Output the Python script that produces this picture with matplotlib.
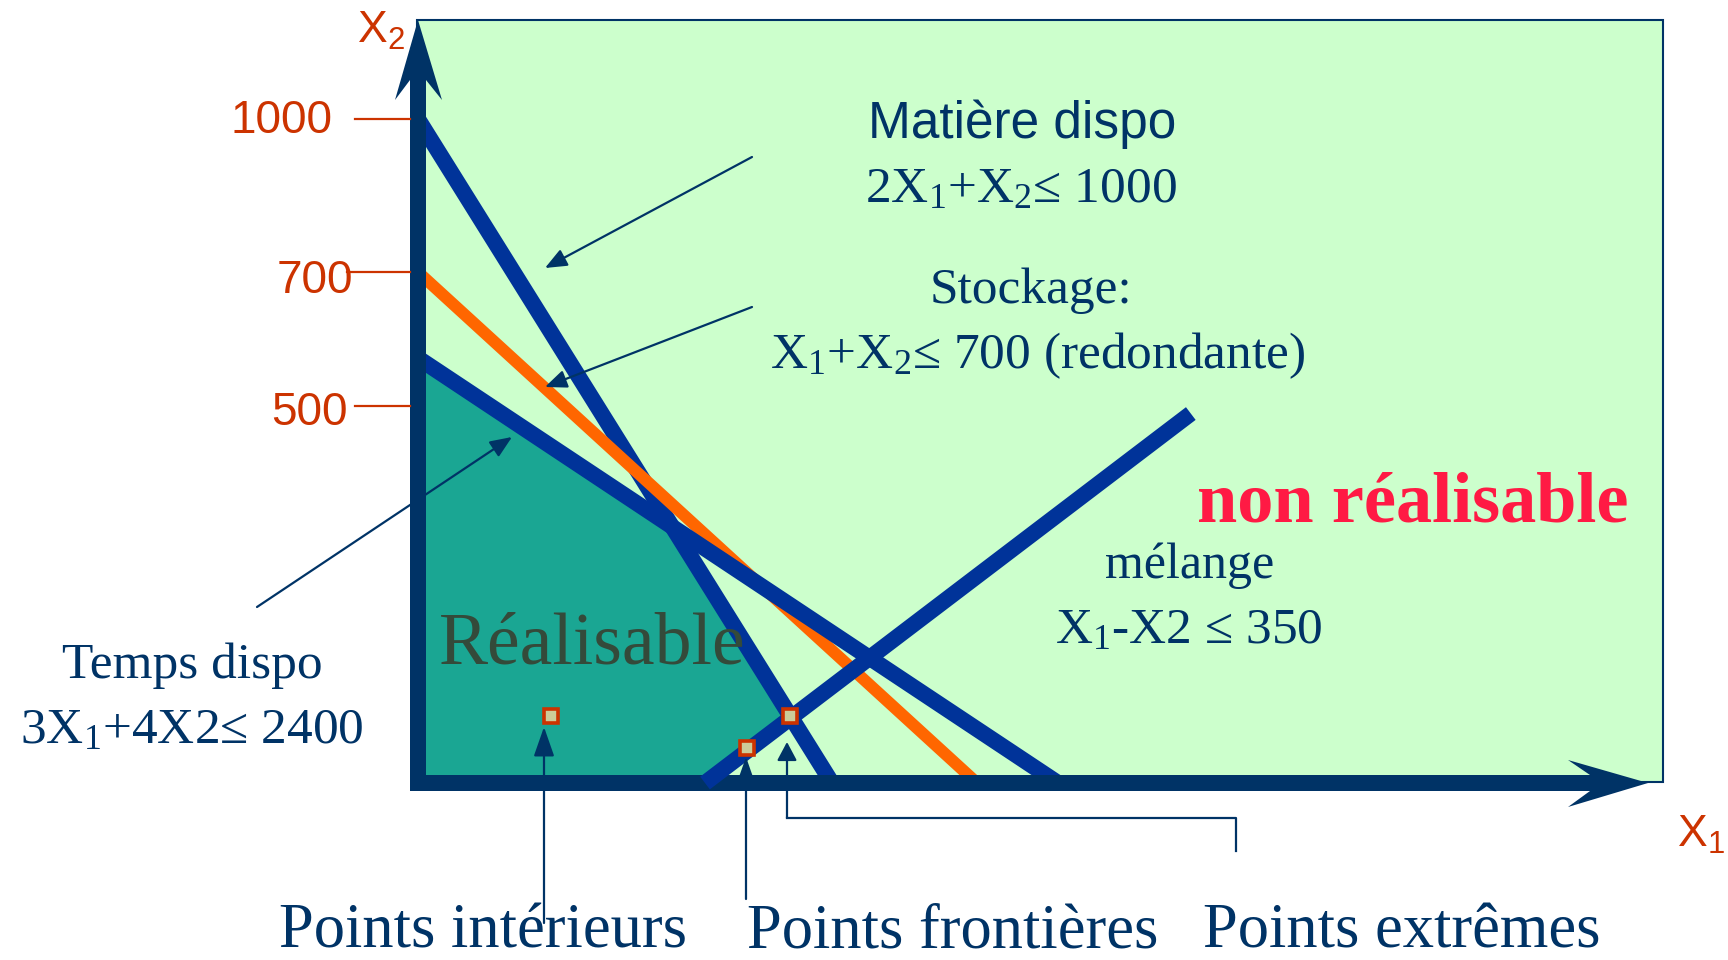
import numpy as np
import matplotlib.pyplot as plt
from matplotlib.patches import Polygon, Rectangle, ArrowStyle
from matplotlib.transforms import Affine2D, blended_transform_factory

plt.rcParams['mathtext.default'] = 'regular'

# constraint lines (X1, X2 end points)
matiere_x = [0, 500]
matiere_y = [1000, 0]
stockage_x = [0, 700]
stockage_y = [700, 0]
temps_x = [0, 800]
temps_y = [600, 0]
melange_x = [350, 966]
melange_y = [0, 490]

# marked points
interior_pt = (162, 89)
frontier_pt = (400, 46)
extreme_pt = (450, 89)

y_ticks = [1000, 700, 500]
y_tick_labels = ['1000', '700', '500']

# the sketch is not drawn to scale: piecewise scale on both axes
X_KNOTS = [-2000, 0, 350, 500, 700, 800, 3000]
X_PX = [-1600, 0, 287, 414, 559, 640, 2400]
Y_KNOTS = [-2000, 0, 500, 600, 700, 1000, 3000]
Y_PX = [-1508, 0, 377, 425, 511, 664, 1684]

W, H = 1728, 960
ORIGIN = (418, 783)

NAVY = '#003366'
LINE_BLUE = '#003399'
ORANGE = '#ff6600'
RUST = '#cc3300'
TEAL = '#1aa693'
PALE = '#ccffcc'
SERIF = 'Liberation Serif'
SANS = 'Liberation Sans'


def x_fwd(v):
    return np.interp(v, X_KNOTS, X_PX)


def x_inv(p):
    return np.interp(p, X_PX, X_KNOTS)


def y_fwd(v):
    return np.interp(v, Y_KNOTS, Y_PX)


def y_inv(p):
    return np.interp(p, Y_PX, Y_KNOTS)


fig = plt.figure(figsize=(W / 100, H / 100), dpi=100)
ax = fig.add_axes([0, 0, 1, 1])
ax.set_xscale('function', functions=(x_fwd, x_inv))
ax.set_yscale('function', functions=(y_fwd, y_inv))
ax.set_xlim(float(x_inv(-ORIGIN[0])), float(x_inv(W - ORIGIN[0])))
ax.set_ylim(float(y_inv(-(H - ORIGIN[1]))), float(y_inv(ORIGIN[1])))
ax.set_axis_off()

# pixel coordinates, origin top-left, for the layout of the sketch
PX = Affine2D().scale(1 / W, -1 / H).translate(0, 1) + fig.transFigure


def crossing(xs1, ys1, xs2, ys2):
    a = ax.transData.transform(np.column_stack([xs1, ys1]))
    b = ax.transData.transform(np.column_stack([xs2, ys2]))
    d1 = a[1] - a[0]
    d2 = b[1] - b[0]
    w = b[0] - a[0]
    t = (w[0] * d2[1] - w[1] * d2[0]) / (d1[0] * d2[1] - d1[1] * d2[0])
    return ax.transData.inverted().transform(a[0] + t * d1)


# background box
ax.add_patch(Rectangle((417, 20), 1246, 762, transform=PX, facecolor=PALE,
                       edgecolor=NAVY, lw=1.5, zorder=1))

# feasible region
corner_tm = crossing(temps_x, temps_y, matiere_x, matiere_y)
corner_mm = crossing(matiere_x, matiere_y, melange_x, melange_y)
feasible = [(0, 0), (temps_x[0], temps_y[0]), tuple(corner_tm),
            tuple(corner_mm), (melange_x[0], melange_y[0])]
ax.add_patch(Polygon(feasible, closed=True, facecolor=TEAL,
                     edgecolor='none', zorder=2))

ax.plot(matiere_x, matiere_y, color=LINE_BLUE, lw=11.5,
        solid_capstyle='butt', zorder=3)
ax.plot(stockage_x, stockage_y, color=ORANGE, lw=8.6,
        solid_capstyle='butt', zorder=3)
ax.plot(temps_x, temps_y, color=LINE_BLUE, lw=11.5,
        solid_capstyle='butt', zorder=3)

# axes as thick arrows
ax.add_patch(Polygon([(410, 791), (410, 80), (395, 100), (418, 20),
                      (442, 100), (426, 80), (426, 791)],
                     closed=True, transform=PX, facecolor=NAVY,
                     edgecolor='none', zorder=4))
ax.add_patch(Polygon([(410, 775), (1590, 775), (1568, 760), (1648, 783),
                      (1568, 807), (1590, 791), (410, 791)],
                     closed=True, transform=PX, facecolor=NAVY,
                     edgecolor='none', zorder=4))

ax.plot(melange_x, melange_y, color=LINE_BLUE, lw=11.5,
        solid_capstyle='butt', zorder=5)

for pt in [interior_pt, frontier_pt, extreme_pt]:
    ax.plot([pt[0]], [pt[1]], marker='s', ms=9.8, mfc='#cccc99', mec=RUST,
            mew=2.6, ls='none', zorder=6)

# y ticks and labels
tick_trans = blended_transform_factory(PX, ax.transData)
tick_start = [355, 347, 355]
label_right = [333, 353, 348]
label_base = [133, 293, 425]
for val, lab, x0, xr, yb in zip(y_ticks, y_tick_labels, tick_start,
                                label_right, label_base):
    ax.plot([x0, 410], [val, val], transform=tick_trans, color=RUST,
            lw=1.6, zorder=4)
    ax.text(xr, yb, lab, transform=PX, ha='right', va='baseline',
            fontsize=33, color=RUST, family=SANS)

ax.text(357, 43, r'X$_2$', transform=PX, ha='left', va='baseline',
        fontsize=32, color=RUST, family=SANS)
ax.text(1677, 847, r'X$_1$', transform=PX, ha='left', va='baseline',
        fontsize=32, color=RUST, family=SANS)

# constraint labels
ax.text(1022, 138, 'Matière dispo', transform=PX, ha='center',
        va='baseline', fontsize=37, color=NAVY, family=SANS)
ax.text(1021, 202, r'2X$_1$+X$_2$≤ 1000', transform=PX, ha='center',
        va='baseline', fontsize=37, color=NAVY, family=SERIF)
ax.text(1031, 303, 'Stockage:', transform=PX, ha='center',
        va='baseline', fontsize=37, color=NAVY, family=SERIF)
ax.text(1038, 368, r'X$_1$+X$_2$≤ 700 (redondante)', transform=PX,
        ha='center', va='baseline', fontsize=37, color=NAVY, family=SERIF)
ax.text(1413, 522, 'non réalisable', transform=PX, ha='center',
        va='baseline', fontsize=52, color='#ff1a44', family=SERIF,
        fontweight='bold')
ax.text(1190, 578, 'mélange', transform=PX, ha='center', va='baseline',
        fontsize=36, color=NAVY, family=SERIF)
ax.text(1189, 643, r'X$_1$-X2 ≤ 350', transform=PX, ha='center',
        va='baseline', fontsize=37, color=NAVY, family=SERIF)
ax.text(192, 678, 'Temps dispo', transform=PX, ha='center', va='baseline',
        fontsize=37, color=NAVY, family=SERIF)
ax.text(192, 743, r'3X$_1$+4X2≤ 2400', transform=PX, ha='center',
        va='baseline', fontsize=37, color=NAVY, family=SERIF)
ax.text(439, 663, 'Réalisable', transform=PX, ha='left', va='baseline',
        fontsize=53, color='#344a3a', family=SERIF, zorder=5)

ax.text(483, 947, 'Points intérieurs', transform=PX, ha='center',
        va='baseline', fontsize=45, color=NAVY, family=SERIF)
ax.text(953, 947, 'Points frontières', transform=PX, ha='center',
        va='baseline', fontsize=45, color=NAVY, family=SERIF)
ax.text(1402, 947, 'Points extrêmes', transform=PX, ha='center',
        va='baseline', fontsize=45, color=NAVY, family=SERIF)


def callout(start, tip, hl, hw, ms):
    ax.annotate('', xy=tip, xytext=start, xycoords=PX, textcoords=PX,
                arrowprops=dict(arrowstyle=ArrowStyle('-|>', head_length=hl,
                                                      head_width=hw),
                                mutation_scale=ms, color=NAVY, lw=1.6,
                                shrinkA=0, shrinkB=0),
                zorder=7)


callout((752, 157), (545, 268), 0.6, 0.25, 22)
callout((752, 307), (545, 387), 0.6, 0.25, 22)
callout((257, 607), (512, 437), 0.6, 0.25, 22)

callout((544, 923), (544, 727), 1.0, 0.35, 18)
callout((746, 899), (746, 757), 1.0, 0.35, 18)
ax.plot([1236, 1236, 787], [851, 818, 818], transform=PX, color=NAVY,
        lw=1.6, zorder=7)
callout((787, 818), (787, 742), 0.75, 0.4, 15)

fig.savefig('out.png', dpi=100)
